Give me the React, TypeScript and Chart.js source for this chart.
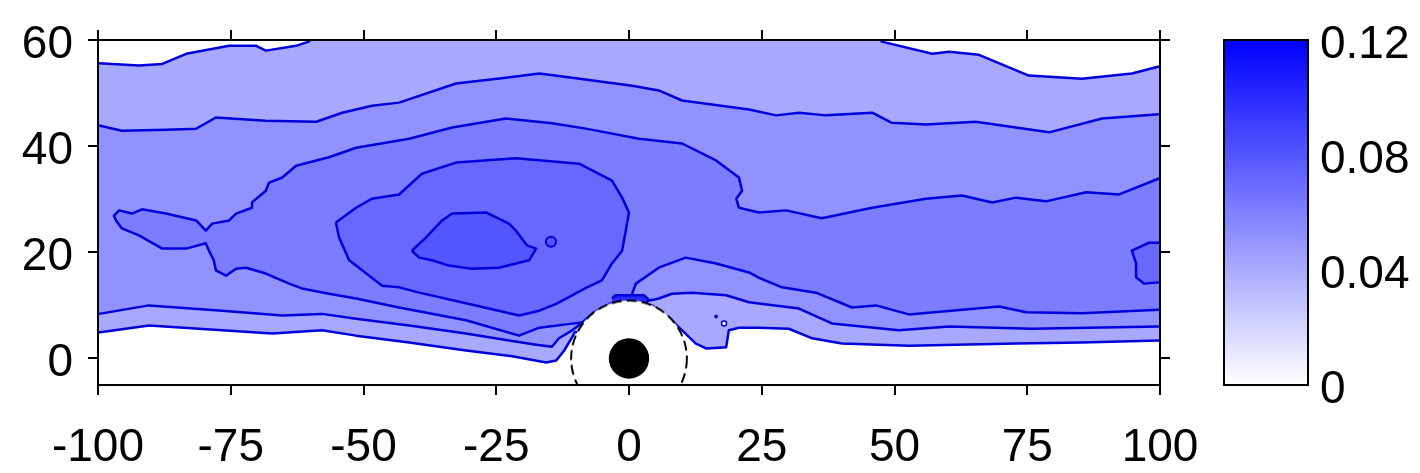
import React, { useEffect, useRef } from 'react';
import { Chart, registerables } from 'chart.js';

Chart.register(...registerables);

type P = [number, number];

// ---- axes / ticks ----
const xRange: P = [-100, 100];
const yRange: P = [-5, 60];
const xTicks = [-100, -75, -50, -25, 0, 25, 50, 75, 100];
const yTicks = [0, 20, 40, 60];
const colorRange: P = [0, 0.12];
const colorTicks = [0, 0.04, 0.08, 0.12];
const colorTickLabels = ['0', '0.04', '0.08', '0.12'];

// ---- contour region outlines (x, y in data units) ----
const band1Outline: P[] = [
  [-102, 4.9], [-99.9, 4.9], [-90.4, 6.2], [-76.6, 5.3], [-67.2, 4.7], [-57.8, 5.3], [-51.4, 4.3],
  [-41.4, 3.0], [-30.7, 1.5], [-22, 0.4], [-15.6, -0.75], [-13.7, -0.4], [-12.2, 1.5], [-10.7, 4.0],
  [-10.2, 5.0], [0, 2], [4.3, 10.0], [7.5, 7.7], [10, 5.3], [12.6, 2.8], [14.5, 1.9], [18.3, 2.1],
  [18.8, 5.3], [20.7, 5.8], [24.5, 5.8], [30.1, 5.6], [34.5, 3.8], [40.1, 2.8], [52.7, 2.4],
  [72.9, 2.8], [85.3, 3.0], [99.8, 3.4], [102, 3.4],
  [102, 55.3], [99.8, 55.0], [94.7, 53.7], [85.3, 52.7], [75.3, 53.3], [65.9, 57.2], [60.3, 57.8],
  [57.1, 57.4], [47.6, 59.7], [46, 63], [-58, 63], [-60.3, 59.7], [-62.7, 58.9], [-68.4, 58.0],
  [-70.2, 58.9], [-75.3, 58.9], [-83.4, 57.4], [-87.9, 55.5], [-92.3, 55.2], [-99.8, 55.6], [-102, 55.6],
];

const band2Outline: P[] = [
  [-102, 8.4], [-99.8, 8.4], [-90.4, 10.0], [-76.6, 9.0], [-65.3, 8.1], [-57.8, 8.4], [-51.4, 7.5],
  [-41.4, 6.2], [-30.7, 4.7], [-22, 3.3], [-17.5, 2.6], [-14.5, 2.2], [-13.2, 3.8], [-10.7, 5.3],
  [-9, 6.6], [0, 3], [1.9, 10.5], [5.6, 11.3], [8.1, 12.2], [11.9, 12.4], [18.3, 11.9], [22.6, 10.6],
  [32, 9.4], [38.2, 6.6], [50.8, 5.3], [60.3, 6.0], [75.9, 5.6], [99.8, 6.0], [102, 6.0],
  [102, 46.0], [99.8, 46.0], [89.1, 45.2], [79.1, 42.6], [65.3, 44.6], [55.9, 44.1], [49.5, 44.4],
  [45.8, 46.3], [37.1, 45.8], [32, 46.3], [27.7, 45.8], [22.6, 46.9], [10, 48.6], [5.6, 50.5],
  [0.6, 51.4], [-10.7, 52.9], [-16.9, 53.7], [-23.2, 52.9], [-32.6, 51.8], [-43.3, 48.2],
  [-48.4, 47.6], [-54, 46.3], [-58.9, 44.6], [-68.4, 44.8], [-77.8, 45.4], [-81.5, 43.3],
  [-87.2, 43.1], [-95.5, 42.9], [-99.8, 43.9], [-102, 43.9],
];

const band3Outline: P[] = [
  [102, 9.2], [99.8, 9.2], [85.3, 8.5], [74.8, 8.7], [69.7, 9.8], [52.7, 8.3], [46.5, 10.0], [42, 9.6],
  [35.2, 12.4], [28.8, 13.4], [24.5, 15.2], [22.6, 16.2], [16.4, 17.9], [10.7, 19.0], [5.6, 17.1],
  [1.3, 14.1], [0.6, 12.2], [0, 4], [-2.4, 10.9], [-6.6, 8.7], [-8.8, 6.8], [-16.9, 5.8], [-20.7, 4.3],
  [-30.7, 7.2], [-43.3, 9.6], [-51.4, 11.3], [-56.5, 12.2], [-61.6, 13.2], [-64, 14.1], [-68.4, 16.0],
  [-72.1, 17.1], [-74, 16.9], [-75.9, 15.6], [-77.8, 16.6], [-78.2, 18.5], [-79.1, 20.3], [-79.7, 21.7],
  [-83.4, 20.7], [-87.9, 20.7], [-92.3, 23.2], [-95.5, 24.5], [-96.6, 26.0], [-97, 26.9], [-96, 27.9],
  [-93.6, 27.3], [-91.7, 28.1], [-87.2, 27.3], [-81.5, 26.0], [-79.7, 24.1], [-78.5, 25.4],
  [-75.3, 26.0], [-74, 27.3], [-71, 28.4], [-71, 29.4], [-68.4, 31.6], [-67.8, 33.1], [-65.3, 34.1],
  [-62.7, 36.3], [-56.5, 37.9], [-51.4, 39.7], [-41.4, 41.4], [-33.3, 43.5], [-23.2, 45.2],
  [-14.5, 44.3], [-8.1, 43.3], [1.9, 41.4], [10, 40.5], [16.4, 37.3], [20.7, 34.1], [21.3, 31.6],
  [20.2, 30.1], [20.7, 28.4], [24.5, 27.5], [29.6, 27.9], [36.3, 26.4], [45.8, 28.4], [55.9, 30.1],
  [62.7, 30.7], [68.4, 29.4], [72.9, 30.3], [78.5, 29.6], [86.1, 31.3], [92.3, 30.9], [99.8, 33.9],
  [102, 34.3],
];

const band4Loop: P[] = [
  [-55.2, 25.6], [-51.4, 28.4], [-48.4, 30.1], [-43.3, 30.9], [-39, 34.8], [-32.6, 36.9], [-21.3, 37.7],
  [-9.4, 36.7], [-3.2, 33.5], [-1.3, 30.3], [0, 27.5], [-0.6, 24.1], [-1.3, 20.3], [-3.2, 17.9],
  [-5.1, 14.7], [-8.1, 13.3], [-13.7, 10.3], [-16.9, 9.0], [-20.7, 8.1], [-30.7, 10.4], [-39.5, 12.4],
  [-43.3, 13.4], [-46.5, 13.7], [-52.7, 18.5], [-54.6, 22.8], [-55.2, 25.6],
];

const band4Edge: P[] = [
  [102, 21.8], [97.9, 21.8], [94.7, 20.3], [95.5, 17.9], [95.5, 15.3], [97, 14.1], [102, 14.5],
];

const band5Blob: P[] = [
  [-40.9, 20.3], [-38.2, 22.8], [-35.2, 26.0], [-33.3, 27.3], [-26.9, 27.5], [-25, 26.6], [-22.6, 25.4],
  [-21.3, 24.1], [-19.2, 21.3], [-17.5, 20.7], [-18.5, 19.0], [-18.8, 18.5], [-24.5, 17.1],
  [-29.6, 16.9], [-33.9, 17.5], [-37.1, 18.5], [-39.5, 19.0], [-40.9, 20.3],
];

const capOutline: P[] = [
  [-3.2, 11.3], [-2.6, 11.9], [2.8, 11.9], [3.6, 11.2], [1.5, 6], [-1.5, 6],
];

const band5Islet: P[] = [[-14.7, 22.0]];
const band1Dots: P[] = [[16.4, 7.9]];
const band1Holes: P[] = [[17.9, 6.6]];

const holeCenter: P[] = [[0, 0]];
const holeRadius = 10.9; // data units
const bodyRadius = 3.8; // data units

// ---- styles ----
const bandColors = ['#a8a8ff', '#9292ff', '#7c7cff', '#6868ff', '#5555ff'];
const capColor = '#2a2aff';
const lineColor = '#0000dd';
const FONT = { family: '"Liberation Sans", Arial, sans-serif', size: 46 };

const toXY = (pts: P[]) => pts.map(([x, y]) => ({ x, y }));

const pxRadius = (chart: any, units: number) => {
  const s = chart.scales.x;
  return Math.abs(s.getPixelForValue(units) - s.getPixelForValue(0));
};

const holeCache: Record<string, HTMLCanvasElement> = {};
function makeHole(r: number): HTMLCanvasElement {
  const key = r.toFixed(2);
  if (holeCache[key]) return holeCache[key];
  const size = Math.ceil(2 * r + 8);
  const c = document.createElement('canvas');
  c.width = size;
  c.height = size;
  const g = c.getContext('2d')!;
  g.fillStyle = '#ffffff';
  g.beginPath();
  g.arc(size / 2, size / 2, r, 0, Math.PI * 2);
  g.fill();
  g.setLineDash([10, 5]);
  g.strokeStyle = '#000000';
  g.lineWidth = 2;
  g.beginPath();
  g.arc(size / 2, size / 2, r, 0, Math.PI * 2);
  g.stroke();
  holeCache[key] = c;
  return c;
}

export default function App() {
  const mainRef = useRef<HTMLCanvasElement | null>(null);
  const barRef = useRef<HTMLCanvasElement | null>(null);

  useEffect(() => {
    document.body.style.margin = '0';
    if (!mainRef.current || !barRef.current) return;

    let order = 100;
    const poly = (pts: P[], color: string) => ({
      type: 'line',
      data: toXY(pts),
      borderColor: lineColor,
      borderWidth: 2.5,
      borderJoinStyle: 'round',
      backgroundColor: color,
      fill: 'shape',
      pointRadius: 0,
      tension: 0,
      order: order--,
    });
    const pts = (p: P[], extra: any) => ({
      type: 'line',
      data: toXY(p),
      showLine: false,
      fill: false,
      clip: 0,
      order: order--,
      ...extra,
    });

    const tickGrid = (len: number) => ({
      display: true,
      drawOnChartArea: false,
      drawTicks: true,
      tickLength: len,
      tickColor: '#000000',
      lineWidth: 2,
    });
    const border = { display: true, color: '#000000', width: 2, z: 1 };

    const datasets: any[] = [
      poly(band1Outline, bandColors[0]),
      poly(band2Outline, bandColors[1]),
      poly(band3Outline, bandColors[2]),
      poly(band4Loop, bandColors[3]),
      poly(band4Edge, bandColors[3]),
      poly(band5Blob, bandColors[4]),
      pts(band5Islet, { pointRadius: 5, backgroundColor: bandColors[4], borderColor: lineColor, borderWidth: 2 }),
      poly(capOutline, capColor),
      pts(band1Dots, { pointRadius: 1.5, backgroundColor: lineColor, borderColor: lineColor, borderWidth: 1 }),
      pts(band1Holes, { pointRadius: 2.5, backgroundColor: '#ffffff', borderColor: lineColor, borderWidth: 1.5 }),
      pts(holeCenter, {
        pointRadius: (c: any) => pxRadius(c.chart, holeRadius),
        pointStyle: (c: any) => makeHole(pxRadius(c.chart, holeRadius)),
        borderWidth: 0,
      }),
      pts(holeCenter, {
        pointRadius: (c: any) => pxRadius(c.chart, bodyRadius),
        pointStyle: 'circle',
        backgroundColor: '#000000',
        borderWidth: 0,
      }),
    ];

    const main = new Chart(mainRef.current, {
      type: 'line',
      data: { datasets },
      options: {
        responsive: false,
        animation: false,
        events: [],
        layout: { padding: 0 },
        plugins: { legend: { display: false }, tooltip: { enabled: false } },
        scales: {
          x: {
            type: 'linear',
            position: 'bottom',
            min: xRange[0],
            max: xRange[1],
            afterBuildTicks: (s: any) => { s.ticks = xTicks.map((v) => ({ value: v })); },
            ticks: { font: FONT, color: '#000000', padding: 26, maxRotation: 0, autoSkip: false },
            grid: tickGrid(10),
            border,
            afterFit: (s: any) => { s.height = 88; s.paddingLeft = 0; s.paddingRight = 0; },
          },
          x2: {
            type: 'linear',
            position: 'top',
            min: xRange[0],
            max: xRange[1],
            afterBuildTicks: (s: any) => { s.ticks = xTicks.map((v) => ({ value: v })); },
            ticks: { display: false },
            grid: tickGrid(10),
            border,
            afterFit: (s: any) => { s.height = 40; s.paddingLeft = 0; s.paddingRight = 0; },
          },
          y: {
            type: 'linear',
            position: 'left',
            min: yRange[0],
            max: yRange[1],
            afterBuildTicks: (s: any) => { s.ticks = yTicks.map((v) => ({ value: v })); },
            ticks: { font: FONT, color: '#000000', padding: 15, labelOffset: 5 },
            grid: tickGrid(10),
            border,
            afterFit: (s: any) => { s.width = 98; s.paddingTop = 0; s.paddingBottom = 0; },
          },
          y2: {
            type: 'linear',
            position: 'right',
            min: yRange[0],
            max: yRange[1],
            afterBuildTicks: (s: any) => { s.ticks = yTicks.map((v) => ({ value: v })); },
            ticks: { display: false },
            grid: tickGrid(10),
            border,
            afterFit: (s: any) => { s.width = 260; s.paddingTop = 0; s.paddingBottom = 0; },
          },
        },
      } as any,
    });

    const bar = new Chart(barRef.current, {
      type: 'bar',
      data: {
        labels: [''],
        datasets: [
          {
            data: [colorRange[1]],
            base: colorRange[0],
            barPercentage: 1,
            categoryPercentage: 1,
            borderWidth: 0,
            backgroundColor: (c: any) => {
              const chart = c.chart;
              const ys = chart.scales && chart.scales.y;
              if (!chart.chartArea || !ys) return '#8080ff';
              const g = chart.ctx.createLinearGradient(
                0, ys.getPixelForValue(colorRange[0]), 0, ys.getPixelForValue(colorRange[1]),
              );
              g.addColorStop(0, '#ffffff');
              g.addColorStop(1, '#0000ff');
              return g;
            },
          } as any,
        ],
      },
      options: {
        responsive: false,
        animation: false,
        events: [],
        layout: { padding: 0 },
        plugins: { legend: { display: false }, tooltip: { enabled: false } },
        scales: {
          x: {
            type: 'category',
            position: 'bottom',
            ticks: { display: false },
            grid: { display: true, drawOnChartArea: false, drawTicks: false },
            border,
            afterFit: (s: any) => { s.height = 88; s.paddingLeft = 0; s.paddingRight = 0; },
          },
          xt: {
            type: 'linear',
            position: 'top',
            min: 0,
            max: 1,
            ticks: { display: false },
            grid: { display: true, drawOnChartArea: false, drawTicks: false },
            border,
            afterFit: (s: any) => { s.height = 40; s.paddingLeft = 0; s.paddingRight = 0; },
          },
          y: {
            type: 'linear',
            position: 'right',
            min: colorRange[0],
            max: colorRange[1],
            afterBuildTicks: (s: any) => { s.ticks = colorTicks.map((v) => ({ value: v })); },
            ticks: {
              font: FONT,
              color: '#000000',
              padding: 17,
              labelOffset: 5,
              callback: (_v: any, i: number) => colorTickLabels[i],
            },
            grid: { ...tickGrid(-5), lineWidth: 1.5 },
            border,
            afterFit: (s: any) => { s.width = 112; s.paddingTop = 0; s.paddingBottom = 0; },
          },
          yl: {
            type: 'linear',
            position: 'left',
            min: colorRange[0],
            max: colorRange[1],
            afterBuildTicks: (s: any) => { s.ticks = colorTicks.map((v) => ({ value: v })); },
            ticks: { display: false },
            grid: { ...tickGrid(-5), lineWidth: 1.5 },
            border,
            afterFit: (s: any) => { s.width = 34; s.paddingTop = 0; s.paddingBottom = 0; },
          },
        },
      } as any,
    });

    return () => {
      main.destroy();
      bar.destroy();
    };
  }, []);

  return (
    <div style={{ position: 'relative', width: 1420, height: 473, background: '#ffffff' }}>
      <canvas
        ref={mainRef}
        width={1420}
        height={473}
        style={{ position: 'absolute', left: 0, top: 0, width: 1420, height: 473, display: 'block' }}
      />
      <canvas
        ref={barRef}
        width={230}
        height={473}
        style={{ position: 'absolute', left: 1190, top: 0, width: 230, height: 473, display: 'block' }}
      />
    </div>
  );
}
